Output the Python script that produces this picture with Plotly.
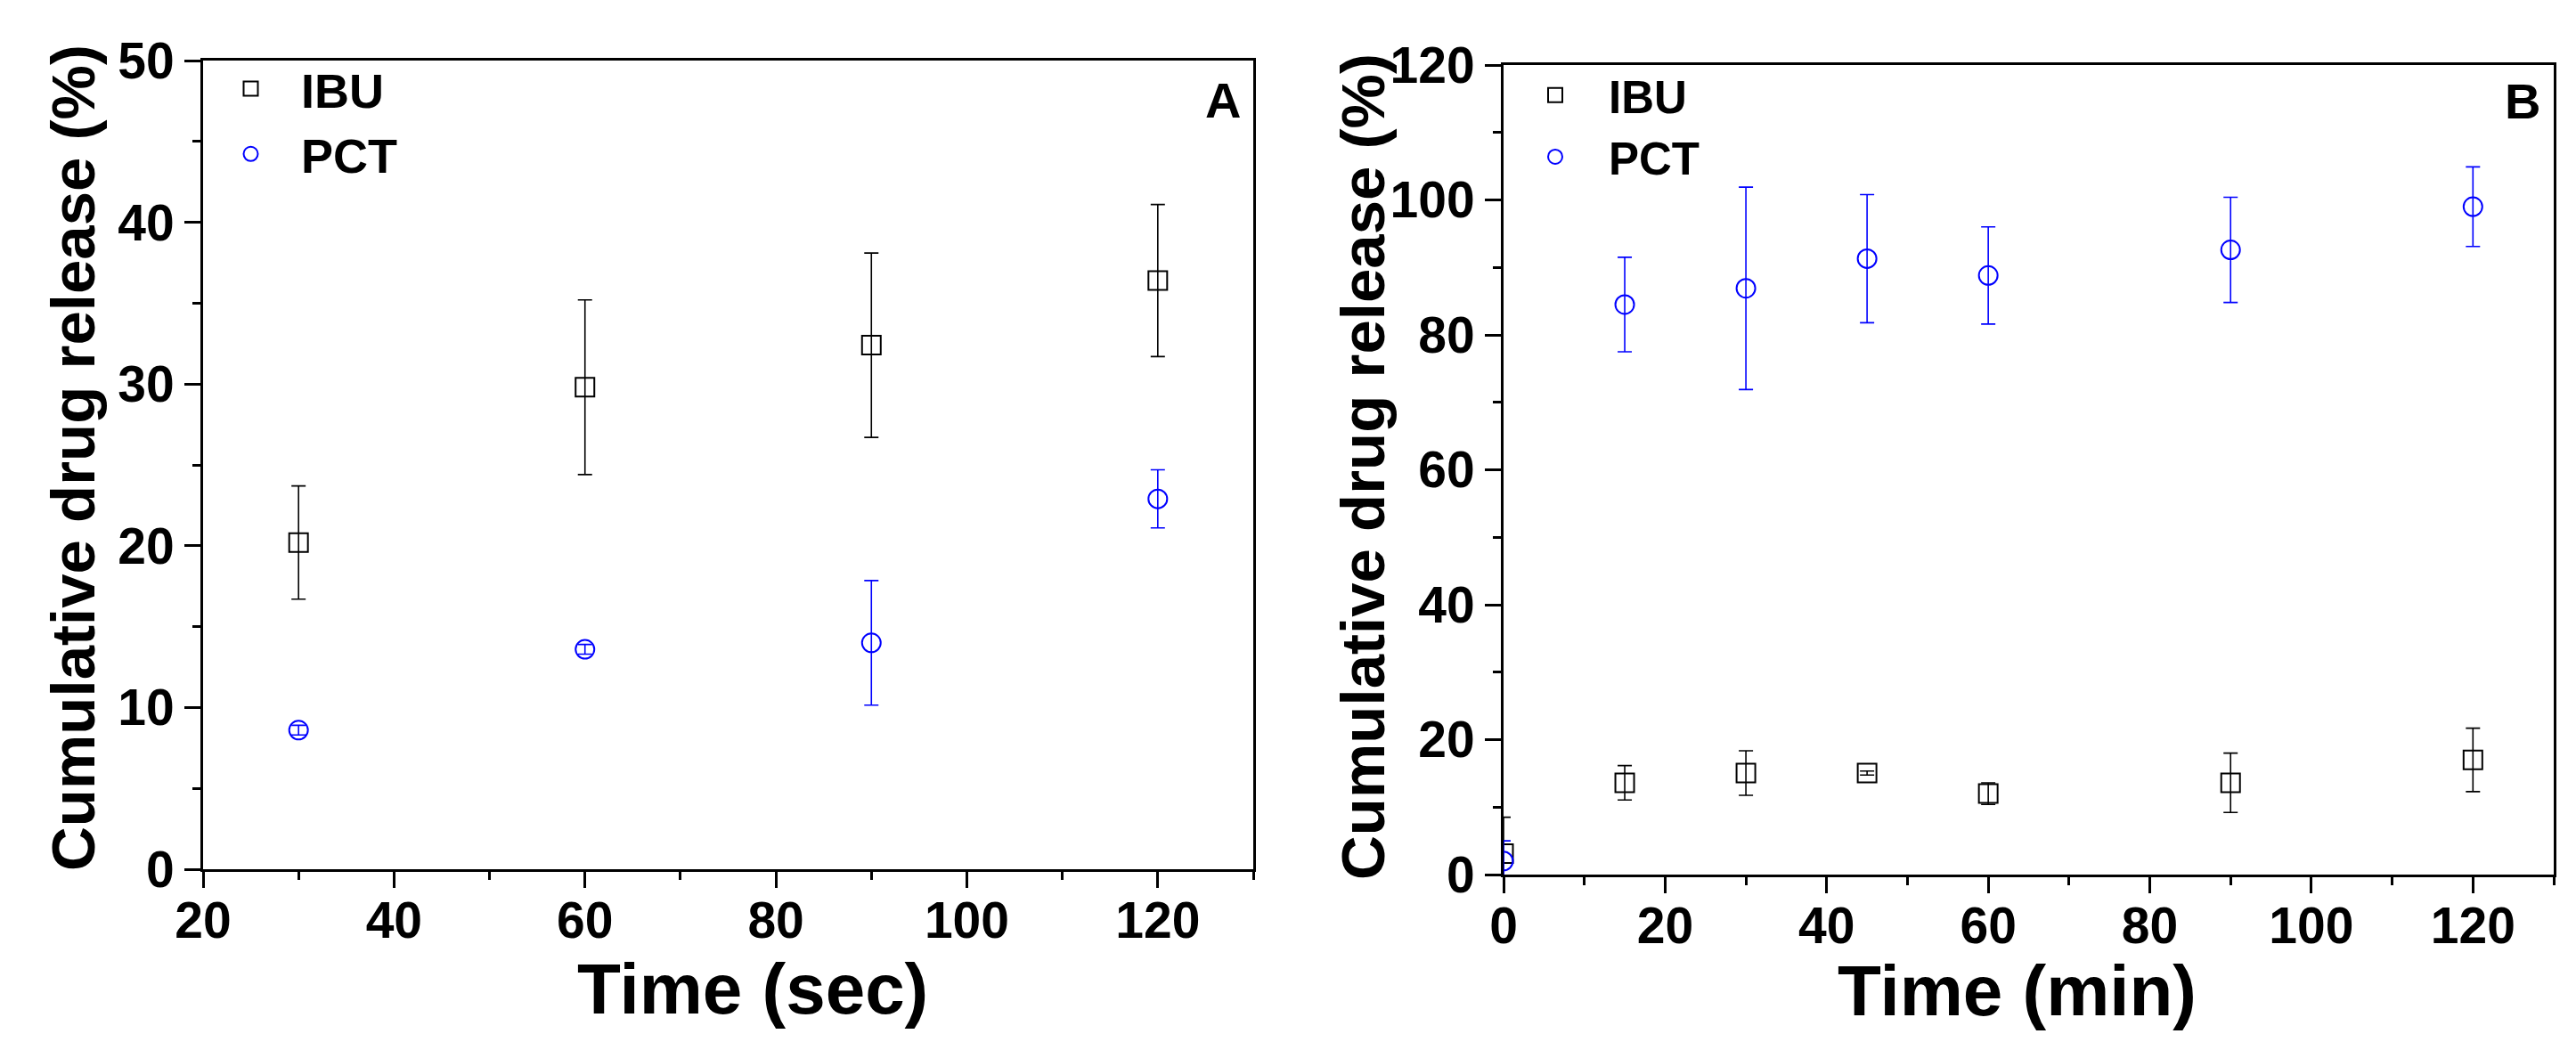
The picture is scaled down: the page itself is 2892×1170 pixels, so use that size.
import plotly.graph_objects as go

# Panel A: release vs time in seconds
time_sec = [30, 60, 90, 120]
ibu_sec = [20.2, 29.8, 32.4, 36.4]
ibu_sec_err = [3.5, 5.4, 5.7, 4.7]
pct_sec = [8.6, 13.6, 14.0, 22.9]
pct_sec_err = [0.3, 0.3, 3.85, 1.8]

# Panel B: release vs time in minutes
time_min = [0, 15, 30, 45, 60, 90, 120]
ibu_min = [3.1, 13.6, 15.05, 15.05, 12.0, 13.6, 17.0]
ibu_min_err = [5.4, 2.55, 3.3, 0.3, 1.6, 4.4, 4.7]
pct_min = [2.0, 84.5, 86.9, 91.3, 88.8, 92.6, 99.0]
pct_min_err = [3.0, 7.0, 15.0, 9.5, 7.2, 7.8, 5.9]

FONT = "Liberation Sans"
BLACK = "#000000"
BLUE = "#0000FF"

# page body adds an 8px margin, so the figure is a bit smaller than the window
OFF = 8
W, H = 2892 - 2 * OFF, 1170 - 2 * OFF


def fx(px):
    return (px - OFF) / W


def fy(px):
    return 1 - (px - OFF) / H


def series(x, y, err, name, color, symbol, xa, ya, legend, group):
    return go.Scatter(
        x=x, y=y, name=name, mode="markers",
        xaxis=xa, yaxis=ya, legend=legend, legendgroup=group,
        marker=dict(symbol=symbol, size=21, color=color,
                    line=dict(color=color, width=2)),
        error_y=dict(type="data", array=err, visible=True, color=color,
                     thickness=1.6, width=8),
    )


def label(text, x, y, size, angle=0):
    return dict(text=text, x=fx(x), y=fy(y), xref="paper", yref="paper",
                xanchor="center", yanchor="middle", showarrow=False, textangle=angle,
                font=dict(family=FONT, size=size, color="black", weight="bold"))


fig = go.Figure()
fig.add_trace(series(time_sec, ibu_sec, ibu_sec_err, "IBU", BLACK, "square-open", "x", "y", "legend", "a1"))
fig.add_trace(series(time_sec, pct_sec, pct_sec_err, "PCT", BLUE, "circle-open", "x", "y", "legend", "a2"))
fig.add_trace(series(time_min, ibu_min, ibu_min_err, "IBU", BLACK, "square-open", "x2", "y2", "legend2", "b1"))
fig.add_trace(series(time_min, pct_min, pct_min_err, "PCT", BLUE, "circle-open", "x2", "y2", "legend2", "b2"))

axis_common = dict(
    showgrid=False, zeroline=False, showline=True, linecolor="black", linewidth=3,
    mirror=True, ticks="outside", ticklen=18, tickwidth=3, tickcolor="black",
    automargin=False,
    tickfont=dict(family=FONT, size=57, color="black", weight="bold"),
    minor=dict(ticks="outside", ticklen=9, tickwidth=3, tickcolor="black"),
)

fig.update_layout(
    width=W, height=H,
    paper_bgcolor="white", plot_bgcolor="white",
    margin=dict(l=0, r=0, t=0, b=0),
    showlegend=True,
    xaxis=dict(axis_common, domain=[fx(228), fx(1407)], range=[20, 130], dtick=20,
               minor=dict(axis_common["minor"], dtick=10), anchor="y",
               ticklabelstandoff=-12),
    yaxis=dict(axis_common, domain=[fy(976), fy(68)], range=[0, 50], dtick=10,
               minor=dict(axis_common["minor"], dtick=5), anchor="x"),
    xaxis2=dict(axis_common, domain=[fx(1688), fx(2867)], range=[0, 130], dtick=20,
                minor=dict(axis_common["minor"], dtick=10), anchor="y2",
                ticklabelstandoff=-12),
    yaxis2=dict(axis_common, domain=[fy(982), fy(73)], range=[0, 120], dtick=20,
                minor=dict(axis_common["minor"], dtick=10), anchor="x2"),
    legend=dict(x=fx(225), y=fy(58), xanchor="left", yanchor="top",
                bgcolor="rgba(0,0,0,0)", tracegroupgap=0, itemwidth=103,
                font=dict(family=FONT, size=54, color="black", weight="bold")),
    legend2=dict(x=fx(1686), y=fy(67), xanchor="left", yanchor="top",
                 bgcolor="rgba(0,0,0,0)", tracegroupgap=0, itemwidth=110,
                 font=dict(family=FONT, size=51, color="black", weight="bold")),
    annotations=[
        label("A", 1373, 112, 56),
        label("B", 2832, 113, 56),
        label("Time (sec)", 845, 1110, 80),
        label("Time (min)", 2264, 1112, 80),
        label("Cumulative drug release (%)", 82, 514, 69, -90),
        label("Cumulative drug release (%)", 1530, 524, 69, -90),
    ],
)

fig.write_html("out.html")
